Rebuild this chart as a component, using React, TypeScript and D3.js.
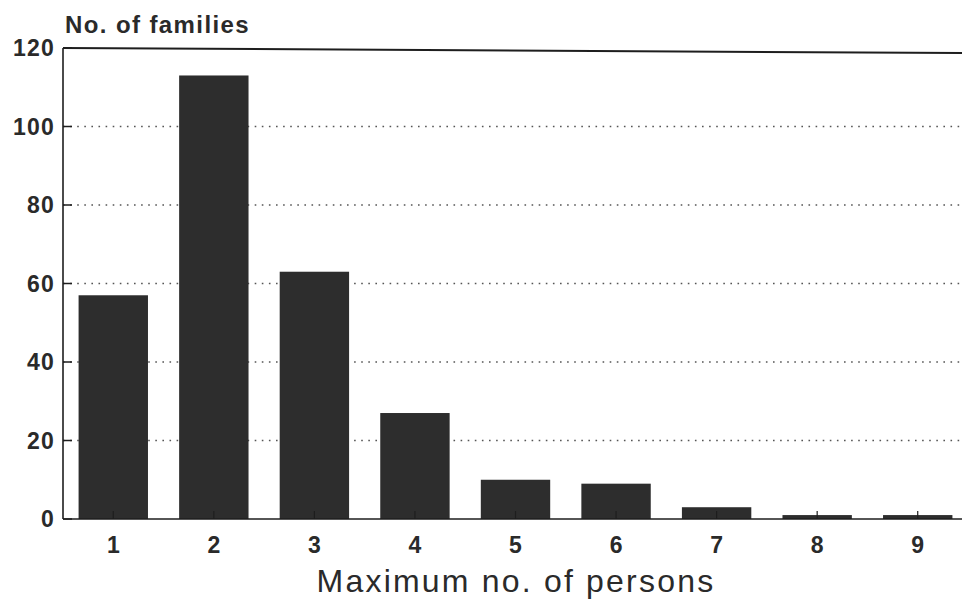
import React from "react";
import * as d3 from "d3";

const categories = ["1", "2", "3", "4", "5", "6", "7", "8", "9"];
const families = [57, 113, 63, 27, 10, 9, 3, 1, 1];
const yTicks = [0, 20, 40, 60, 80, 100, 120];
const yLabel = "No. of families";
const xLabel = "Maximum no. of persons";

const W = 962;
const H = 599;
const left = 63;
const right = 968;
const top = 48;
const bottom = 519;

export default function App() {
  const x = d3.scaleBand<string>().domain(categories).range([left, right]).paddingInner(0.31).paddingOuter(0.155);
  const y = d3.scaleLinear().domain([0, 120]).range([bottom, top]);
  const font = "'Liberation Sans', Arial, Helvetica, sans-serif";
  const ink = "#1e1e1e";
  return (
    <svg width={W} height={H} style={{ position: "absolute", left: 0, top: 0, background: "#fff" }}>
      {yTicks.filter((t) => t > 0 && t < 120).map((t) => (
        <line key={"g" + t} x1={left} x2={W} y1={y(t)} y2={y(t)} stroke="#555" strokeWidth={1.6} strokeDasharray="1.6,5.5" />
      ))}
      {categories.map((c, i) => (
        <rect key={c} x={x(c)} width={x.bandwidth()} y={y(families[i])} height={bottom - y(families[i])} fill="#2d2d2d" />
      ))}
      {yTicks.map((t) => (
        <line key={"t" + t} x1={left} x2={left + 9} y1={y(t)} y2={y(t)} stroke={ink} strokeWidth={1.5} />
      ))}
      {categories.map((c) => (
        <line key={"xt" + c} x1={x(c)! + x.bandwidth() / 2} x2={x(c)! + x.bandwidth() / 2} y1={bottom} y2={bottom - 8} stroke={ink} strokeWidth={1.2} />
      ))}
      <line x1={left} x2={left} y1={top} y2={bottom} stroke={ink} strokeWidth={1.6} />
      <line x1={left} x2={W} y1={bottom} y2={bottom} stroke={ink} strokeWidth={1.6} />
      <line x1={left} x2={W} y1={top} y2={top + 5} stroke={ink} strokeWidth={2} />
      {yTicks.map((t) => (
        <text key={"l" + t} x={55} y={y(t)} dy="0.36em" textAnchor="end" fontFamily={font} fontWeight="bold" fontSize={23} letterSpacing={1.2} fill="#2a2a2a">
          {t}
        </text>
      ))}
      {categories.map((c) => (
        <text key={"xl" + c} x={x(c)! + x.bandwidth() / 2} y={553} textAnchor="middle" fontFamily={font} fontWeight="bold" fontSize={23} fill="#2a2a2a">
          {c}
        </text>
      ))}
      <text x={65} y={33} fontFamily={font} fontWeight="bold" fontSize={24} fill="#2a2a2a" letterSpacing={1.4}>
        {yLabel}
      </text>
      <text x={516} y={592} textAnchor="middle" fontFamily={font} fontSize={32} fill="#2a2a2a" letterSpacing={2.2}>
        {xLabel}
      </text>
    </svg>
  );
}
